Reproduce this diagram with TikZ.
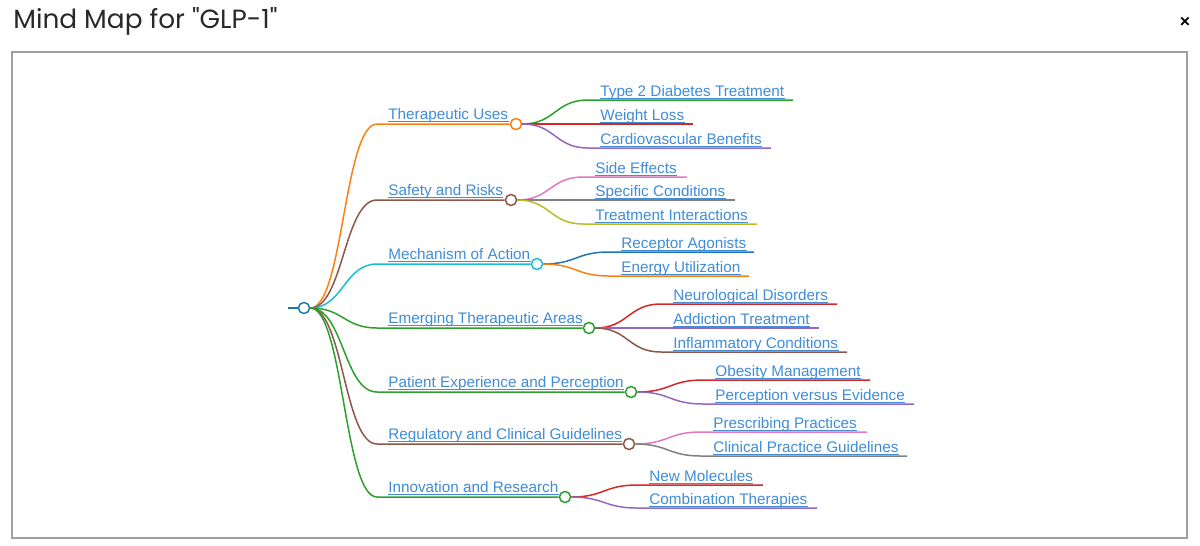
\documentclass[tikz,border=0pt]{standalone}
\usepackage{fontspec}
\setmainfont{Liberation Sans}
\newfontfamily\titlefont{Poppins}
\usetikzlibrary{positioning}
\definecolor{mmblue}{RGB}{31,119,180}
\definecolor{mmorange}{RGB}{255,127,14}
\definecolor{mmgreen}{RGB}{44,160,44}
\definecolor{mmred}{RGB}{214,39,40}
\definecolor{mmpurple}{RGB}{148,103,189}
\definecolor{mmbrown}{RGB}{140,86,75}
\definecolor{mmpink}{RGB}{227,119,194}
\definecolor{mmgray}{RGB}{127,127,127}
\definecolor{mmolive}{RGB}{188,189,34}
\definecolor{mmcyan}{RGB}{23,190,207}
\definecolor{linkblue}{RGB}{64,140,215}
\definecolor{titlegray}{RGB}{40,40,40}
\definecolor{framegray}{RGB}{160,160,160}
\tikzset{
  topic/.style={anchor=base west, inner sep=0pt, text=linkblue,
                font=\fontsize{8.7}{10}\selectfont},
  branch/.style={line width=0.85pt},
  knob/.style={circle, draw, fill=white, line width=0.85pt,
               minimum size=6.3pt, inner sep=0pt},
  uline/.style={draw=linkblue, line width=0.55pt},
}

\begin{document}
\begin{tikzpicture}[x=0.02cm, y=-0.02cm]
        \useasboundingbox (0,0) rectangle (1200,545);

        % header
        \node[anchor=base west, inner sep=0pt, text=titlegray,
              font=\titlefont\fontsize{15}{18}\selectfont] (title) at (13,28) {Mind Map for "GLP-1"};
        \node[inner sep=0pt, font=\bfseries\fontsize{10}{12}\selectfont] (close) at (1185,22) {×};
        \draw[framegray, line width=0.6pt] (12,52) rectangle (1187,538);

        % root
        \coordinate (stub) at (288,308);
        \node[knob, draw=mmblue] (root) at (304,308) {};
        \draw[branch, mmblue] (stub) -- (root.west);

        % first level
        \foreach \n/\lbl/\y/\cx/\col in {tu/Therapeutic Uses/124/516/mmorange,
            sr/Safety and Risks/200/511/mmbrown,
            ma/Mechanism of Action/264/537/mmcyan,
            et/Emerging Therapeutic Areas/328/589/mmgreen,
            pe/Patient Experience and Perception/392/631/mmgreen,
            rc/Regulatory and Clinical Guidelines/444/629/mmbrown,
            ir/Innovation and Research/497/565/mmgreen}{
          \coordinate (\n-s) at (377,\y);
          \node[knob, draw=\col] (\n) at (\cx,\y) {};
          \draw[branch, \col] (root.east) .. controls +(33,0) and +(-33,0) .. (\n-s) -- (\n.west);
          \node[topic] (\n-t) at (388,\y-5) {\lbl};
          \draw[uline] ([yshift=-1.4pt]\n-t.base west) -- ([yshift=-1.4pt]\n-t.base east);
        }

        % second level
        \foreach \p/\lbl/\y/\tx/\ex/\col in {tu/Type 2 Diabetes Treatment/100/600/793/mmgreen,
            tu/Weight Loss/124/600/693/mmred,
            tu/Cardiovascular Benefits/148/600/771/mmpurple,
            sr/Side Effects/177/595/687/mmpink,
            sr/Specific Conditions/200/595/735/mmgray,
            sr/Treatment Interactions/224/595/757/mmolive,
            ma/Receptor Agonists/252/621/754/mmblue,
            ma/Energy Utilization/276/621/749/mmorange,
            et/Neurological Disorders/304/673/837/mmred,
            et/Addiction Treatment/328/673/819/mmpurple,
            et/Inflammatory Conditions/352/673/847/mmbrown,
            pe/Obesity Management/380/715/870/mmred,
            pe/Perception versus Evidence/404/715/914/mmpurple,
            rc/Prescribing Practices/432/713/867/mmpink,
            rc/Clinical Practice Guidelines/456/713/907/mmgray,
            ir/New Molecules/485/649/763/mmred,
            ir/Combination Therapies/508/649/817/mmpurple}{
          \coordinate (leaf-s) at (\tx-12,\y);
          \coordinate (leaf-e) at (\ex,\y);
          \draw[branch, \col] (\p.east) .. controls +(33,0) and +(-33,0) .. (leaf-s) -- (leaf-e);
          \node[topic] (leaf) at (\tx,\y-4) {\lbl};
          \draw[uline] ([yshift=-1.4pt]leaf.base west) -- ([yshift=-1.4pt]leaf.base east);
        }

      \end{tikzpicture}
\end{document}
